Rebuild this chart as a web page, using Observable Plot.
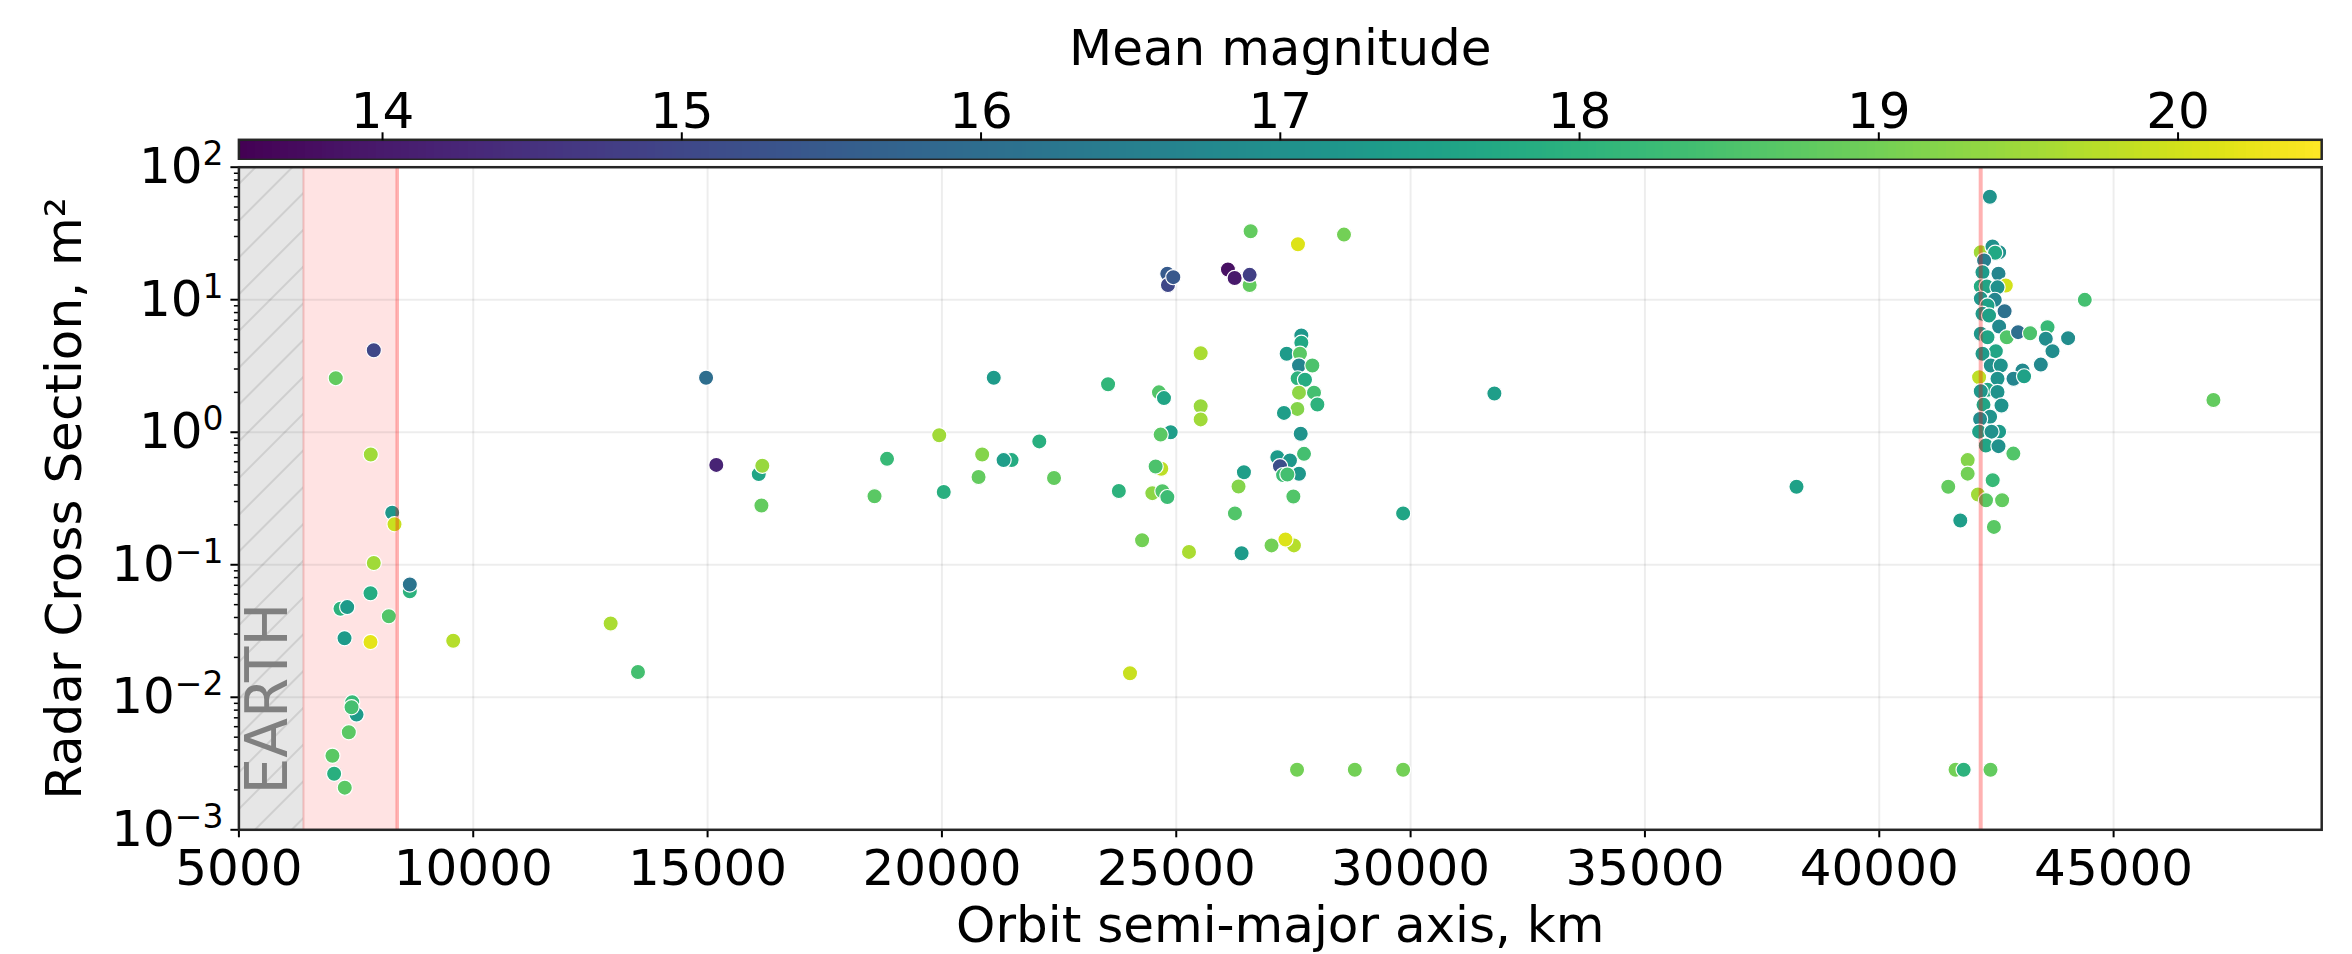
<!DOCTYPE html>
<html>
<head>
<meta charset="utf-8">
<script src="https://cdn.jsdelivr.net/npm/d3@7"></script>
<script src="https://cdn.jsdelivr.net/npm/@observablehq/plot@0.6"></script>
<style>
  body { margin: 0; background: #fff; }
  #wrap { position: relative; width: 2352px; height: 954px; font-family: "DejaVu Sans", sans-serif; }
  #wrap svg { position: absolute; left: 0; top: 0; }
</style>
</head>
<body>
<div id="wrap"></div>
<script>
// ---- data ----
const semiMajorAxis = [
  7878, 7067, 7814, 8271, 8320, 7878, 8647, 8647, 7808, 7168, 7311, 8199, 7254, 7808, 9573, 12932, 13515, 7418, 7510, 7403, 7345, 6996, 7032, 7259,
  14968, 15186, 16092, 16168, 16149, 18829, 18562, 19943, 20039, 21106, 20859, 20782, 21486, 21316, 22078, 22392, 23545, 23775, 24271, 24013, 25272,
  24809, 24823, 24937, 26103, 26246, 26566, 26566, 26587, 27597, 28579, 25521, 25521, 25521, 24631, 24738, 24881, 24667, 24681, 24560, 24490, 24704, 24810,
  26444, 26329, 26252, 26394, 27033, 27511, 27330, 27577, 28810, 29841,
  27669, 27669, 27356, 27640, 27619, 27904, 27590, 27747, 27619, 27939, 28011, 27584, 27298, 27655, 27726, 27157, 27426, 27213, 27280, 27619, 27371, 27499,
  31788, 29841, 38234, 47130,
  41628, 41800, 42373,
  41729, 42446, 41472, 41886, 41886, 42106, 42277, 42621, 42420, 42861,
  42360, 42166, 42557, 42416, 42472, 42237, 42202, 42544, 42166, 42700, 42294, 42523, 42166, 42465, 42309, 42674, 42202, 42343, 42557, 42166,
  42309, 42721, 42962, 43218, 43590, 43553, 44029, 43696, 44385, 42487, 42202, 42380, 42593, 43447, 43056, 42130, 42864, 43090, 42523, 42309,
  42523, 42166, 42224, 42608, 42365, 42151, 42130, 42557, 42395, 42273, 42544
];
const radarCrossSection = [
  4.16, 2.56, 0.68, 0.247, 0.202, 0.103, 0.063, 0.071, 0.061, 0.0466, 0.0479, 0.0409, 0.0279, 0.0261, 0.0267, 0.036, 0.0155, 0.00918, 0.0074, 0.0084, 0.00545, 0.00362, 0.00265, 0.00208,
  2.58, 0.567, 0.483, 0.558, 0.28, 0.63, 0.329, 0.949, 0.354, 2.58, 0.68, 0.459, 0.616, 0.616, 0.853, 0.452, 2.30, 0.36, 0.153, 0.0152, 0.125,
  15.7, 12.9, 14.8, 16.9, 14.6, 12.9, 15.4, 32.9, 26.2, 31.0, 3.95, 1.57, 1.25, 2.0, 1.81, 1.0, 0.96, 0.53, 0.551, 0.347, 0.359, 0.324,
  0.499, 0.39, 0.244, 0.122, 0.14, 0.14, 0.155, 0.00284, 0.00284, 0.00284,
  5.37, 4.73, 3.91, 3.91, 3.19, 3.19, 2.55, 2.49, 1.99, 1.99, 1.62, 1.50, 1.40, 0.973, 0.687, 0.648, 0.612, 0.555, 0.475, 0.486, 0.48, 0.327,
  1.96, 0.244, 0.388, 1.75,
  0.00284, 0.00284, 0.00284,
  0.216, 0.193, 0.388, 0.616, 0.487, 0.339, 0.307, 0.307, 0.435, 0.69,
  59.8, 22.8, 22.8, 25.2, 22.6, 19.8, 16.1, 15.7, 12.6, 12.8, 12.6, 12.4, 10.2, 9.98, 9.04, 8.19, 7.83, 7.60, 6.28, 5.53,
  5.21, 5.21, 5.69, 5.59, 6.21, 5.07, 5.13, 4.09, 9.98, 4.09, 3.91, 3.19, 3.19, 3.24, 2.92, 2.60, 2.53, 2.64, 2.53, 2.09,
  2.01, 2.04, 1.61, 1.59, 1.31, 1.26, 1.01, 1.01, 1.01, 0.794, 0.785
];
const meanMagnitude = [
  15.0, 18.8, 19.5, 17.2, 19.9, 19.5, 18.0, 16.2, 17.8, 18.0, 17.3, 18.6, 17.3, 20.2, 19.7, 19.6, 18.4, 18.2, 17.3, 18.4, 18.7, 18.7, 17.9, 18.7,
  16.0, 14.2, 17.6, 19.4, 18.8, 18.2, 18.7, 19.5, 17.9, 17.3, 19.2, 18.8, 17.8, 17.4, 17.9, 18.8, 18.1, 18.0, 19.0, 19.9, 19.6,
  15.5, 15.0, 15.4, 13.8, 14.0, 18.8, 14.8, 18.8, 20.1, 19.0, 19.6, 19.4, 19.5, 18.6, 17.6, 17.4, 18.7, 19.8, 18.5, 19.3, 18.6, 18.3,
  17.4, 19.2, 18.6, 17.3, 19.0, 19.7, 20.1, 19.0, 19.0, 19.0,
  17.2, 17.7, 17.3, 18.7, 16.7, 18.5, 18.0, 17.8, 19.3, 18.4, 18.0, 19.2, 17.4, 17.1, 18.4, 17.3, 17.2, 15.2, 18.3, 17.2, 18.4, 18.6,
  17.4, 17.6, 17.5, 18.8,
  19.0, 18.0, 18.8,
  17.4, 18.7, 18.8, 19.2, 19.0, 19.5, 18.7, 18.8, 18.2, 18.6,
  17.1, 19.5, 17.0, 17.0, 17.7, 16.5, 17.3, 16.7, 17.8, 20.0, 17.6, 17.0, 17.2, 16.7, 17.5, 16.1, 17.3, 17.5, 16.8, 17.2,
  17.6, 18.6, 16.0, 18.5, 18.2, 16.9, 16.9, 16.9, 18.4, 17.6, 17.3, 17.0, 17.1, 16.8, 16.8, 19.8, 16.7, 17.5, 17.1, 17.7,
  17.1, 17.2, 17.6, 17.1, 17.1, 16.9, 17.5, 17.3, 17.0, 17.6, 17.0
];

const xTicks = [5000, 10000, 15000, 20000, 25000, 30000, 35000, 40000, 45000];
const yTicks = [1e-3, 1e-2, 1e-1, 1e0, 1e1, 1e2];
const magTicks = [14, 15, 16, 17, 18, 19, 20];
const xDomain = [5000, 49440];
const yDomain = [1e-3, 1e2];
const magDomain = [13.52, 20.48];

const earthRadius = 6378;     // km
const leoLimit = 8378;        // km
const geoRadius = 42164;      // km
const earthLabel = [{a: 5632, rcs: 0.00185, text: "EARTH"}];
const earthSpan = [{x1: 5000, x2: earthRadius}];
const leoSpan = [{x1: earthRadius, x2: leoLimit}];

// ---- build ----
const data = semiMajorAxis.map((a, i) => ({a, rcs: radarCrossSection[i], mag: meanMagnitude[i]}));
const yMinor = [-3, -2, -1, 0, 1].flatMap(e => [2, 3, 4, 5, 6, 7, 8, 9].map(m => m * Math.pow(10, e)));
const FONT = '"DejaVu Sans", sans-serif';
const W = 2352, ML = 238.4, MR = 30.8;

const main = Plot.plot({
  width: W, height: 954,
  marginLeft: ML, marginRight: MR, marginTop: 166.7, marginBottom: 124.7,
  style: {fontFamily: FONT, color: "#000", background: "#fff"},
  x: {domain: xDomain},
  y: {type: "log", domain: yDomain},
  color: {type: "linear", scheme: "viridis", domain: magDomain},
  marks: [
    Plot.rect(earthSpan, {x1: "x1", x2: "x2", fill: "gray", fillOpacity: 0.2}),
    Plot.rect(earthSpan, {x1: "x1", x2: "x2", fill: "url(#hatch)"}),
    Plot.rect(leoSpan, {x1: "x1", x2: "x2", fill: "red", fillOpacity: 0.11}),
    Plot.gridX(xTicks, {stroke: "#000", strokeOpacity: 0.07, strokeWidth: 2}),
    Plot.gridY(yTicks, {stroke: "#000", strokeOpacity: 0.07, strokeWidth: 2}),
    Plot.ruleX([earthRadius], {stroke: "#d88", strokeOpacity: 0.45, strokeWidth: 2}),
    Plot.dot(data, {x: "a", y: "rcs", fill: "mag", r: 7.6, stroke: "white", strokeWidth: 1.2}),
    Plot.ruleX([leoLimit], {stroke: "red", strokeOpacity: 0.3, strokeWidth: 3.5}),
    Plot.ruleX([geoRadius], {stroke: "red", strokeOpacity: 0.3, strokeWidth: 4}),
    Plot.text(earthLabel, {x: "a", y: "rcs", text: "text", rotate: -90, textAnchor: "start", lineAnchor: "middle", fontSize: 58, fill: "#808080"}),
    Plot.axisX({ticks: xTicks, tickSize: 8, tickPadding: 12, strokeWidth: 2, fontSize: 50,
      tickFormat: d3.format("d"), label: "Orbit semi-major axis, km", labelAnchor: "center", labelOffset: 112, labelArrow: false}),
    Plot.axisY({ticks: yMinor, tickSize: 4.5, strokeWidth: 1.5, tickFormat: () => "", label: null}),
    Plot.axisY({ticks: yTicks, tickSize: 8, tickPadding: 7.4, strokeWidth: 2, fontSize: 50,
      tickFormat: d => "10^" + Math.round(Math.log10(d)),
      label: "Radar Cross Section, m²", labelAnchor: "center", labelOffset: 193, labelArrow: false}),
    Plot.frame({stroke: "#262626", strokeWidth: 2.5})
  ]
});

// superscript exponents on the log axis labels
d3.select(main).selectAll('g[aria-label="y-axis tick label"] text').each(function () {
  const t = d3.select(this);
  const s = t.text();
  if (!s.startsWith("10^")) return;
  const e = s.slice(3).replace("-", "\u2212");
  t.text("");
  t.append("tspan").text("10");
  t.append("tspan").attr("font-size", 33).attr("dy", "-0.55em").text(e);
});

// hatch pattern for the Earth band
const defs = d3.select(main).insert("defs", ":first-child");
const pat = defs.append("pattern").attr("id", "hatch").attr("patternUnits", "userSpaceOnUse")
  .attr("width", 26).attr("height", 26).attr("patternTransform", "rotate(45)");
pat.append("line").attr("x1", 13).attr("y1", -2).attr("x2", 13).attr("y2", 28)
  .attr("stroke", "#000").attr("stroke-opacity", 0.1).attr("stroke-width", 2);

// ---- colour bar ----
const nSteps = 500;
const step = (magDomain[1] - magDomain[0]) / nSteps;
const steps = d3.range(nSteps).map(i => magDomain[0] + i * step);
const bar = Plot.plot({
  width: W, height: 160,
  marginLeft: ML, marginRight: MR, marginTop: 139.3, marginBottom: 0.7,
  style: {fontFamily: FONT, color: "#000", background: "transparent"},
  x: {domain: magDomain},
  color: {type: "linear", scheme: "viridis", domain: magDomain},
  marks: [
    Plot.rect(steps, {x1: d => d, x2: d => Math.min(d + step * 1.6, magDomain[1]), fill: d => d + step / 2, shapeRendering: "crispEdges"}),
    Plot.frame({stroke: "#262626", strokeWidth: 2.5}),
    Plot.axisX({anchor: "top", ticks: magTicks, tickSize: 8, tickPadding: 4, strokeWidth: 2, fontSize: 50,
      tickFormat: d3.format("d"),
      label: "Mean magnitude", labelAnchor: "center", labelOffset: 110, labelArrow: false})
  ]
});

const wrap = document.getElementById("wrap");
wrap.appendChild(main);
wrap.appendChild(bar);
</script>
</body>
</html>
